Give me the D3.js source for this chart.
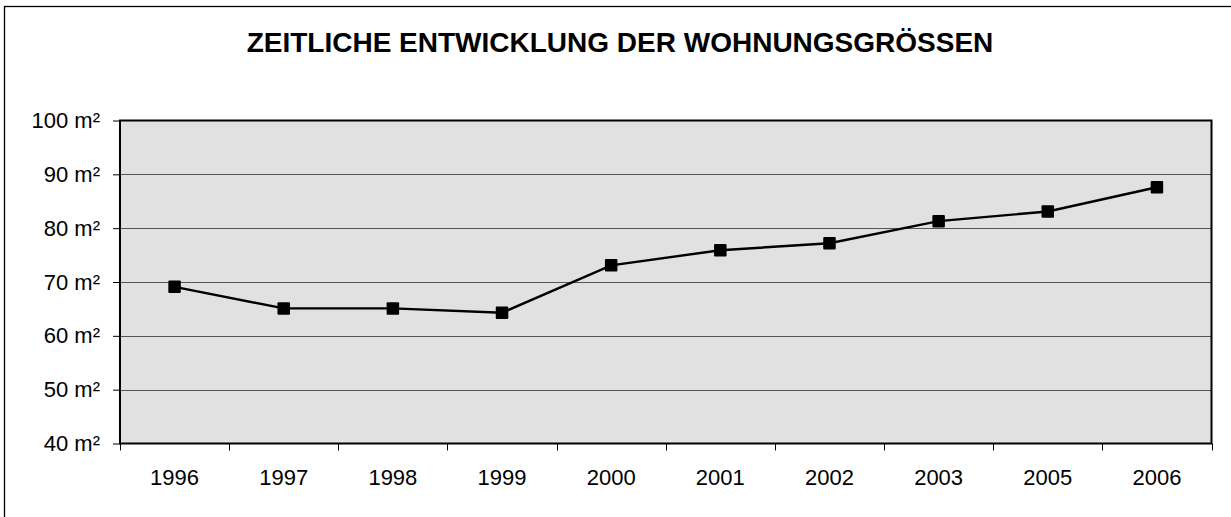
<!DOCTYPE html>
<html>
<head>
<meta charset="utf-8">
<script src="https://cdn.jsdelivr.net/npm/d3@7"></script>
<style>
  html, body { margin: 0; padding: 0; background: #fff; }
  svg { display: block; font-family: "Liberation Sans", Arial, sans-serif; }
</style>
</head>
<body>
<svg id="chart" width="1231" height="517"></svg>
<script>
// Average dwelling size per year (m²)
const years = ["1996", "1997", "1998", "1999", "2000", "2001", "2002", "2003", "2005", "2006"];
const sizes = [69.1, 65.1, 65.1, 64.3, 73.1, 75.9, 77.2, 81.3, 83.1, 87.6];
const yTicks = [40, 50, 60, 70, 80, 90, 100];
const title = "ZEITLICHE ENTWICKLUNG DER WOHNUNGSGRÖSSEN";

const svg = d3.select("#chart");
const W = 1231, H = 517;
const plot = { left: 120, top: 120.5, right: 1211.5, bottom: 443.5 };

// outer chart frame (runs off the right and bottom edges)
svg.append("rect")
  .attr("x", 4.5).attr("y", 6.5)
  .attr("width", W + 10).attr("height", H + 10)
  .attr("fill", "#fff").attr("stroke", "#000").attr("stroke-width", 1.3);

svg.append("text")
  .attr("x", 620).attr("y", 52)
  .attr("text-anchor", "middle")
  .attr("font-size", 28).attr("font-weight", "bold")
  .attr("fill", "#000")
  .text(title);

const x = d3.scaleBand().domain(years).range([plot.left, plot.right]);
const y = d3.scaleLinear().domain([40, 100]).range([plot.bottom, plot.top]);

// plot background
svg.append("rect")
  .attr("x", plot.left).attr("y", plot.top)
  .attr("width", plot.right - plot.left).attr("height", plot.bottom - plot.top)
  .attr("fill", "#e1e1e1");

// horizontal gridlines
svg.append("g").selectAll("line")
  .data(yTicks.filter(t => t > 40 && t < 100))
  .join("line")
  .attr("x1", plot.left).attr("x2", plot.right)
  .attr("y1", d => Math.round(y(d)) + 0.5).attr("y2", d => Math.round(y(d)) + 0.5)
  .attr("stroke", "#555").attr("stroke-width", 1);

// plot border
svg.append("rect")
  .attr("x", plot.left).attr("y", plot.top)
  .attr("width", plot.right - plot.left).attr("height", plot.bottom - plot.top)
  .attr("fill", "none").attr("stroke", "#000").attr("stroke-width", 2);

// y axis
const yAxis = svg.append("g")
  .attr("transform", `translate(${plot.left},0)`)
  .call(d3.axisLeft(y).tickValues(yTicks).tickSize(7).tickPadding(13)
    .tickFormat(d => d + " m²"));
yAxis.select(".domain").remove();
yAxis.selectAll(".tick line").attr("stroke", "#000").attr("stroke-width", 1);
yAxis.selectAll(".tick text")
  .attr("font-size", 22).attr("fill", "#000")
  .attr("font-family", "'Liberation Sans', Arial, sans-serif");

// x axis: ticks at category boundaries, labels centred in each band
const xAxis = svg.append("g").attr("transform", `translate(0,${plot.bottom})`);
const boundaries = years.map(d => x(d)).concat([plot.right]);
xAxis.selectAll("line")
  .data(boundaries)
  .join("line")
  .attr("x1", d => Math.round(d) + 0.5).attr("x2", d => Math.round(d) + 0.5)
  .attr("y1", 0).attr("y2", 7)
  .attr("stroke", "#000").attr("stroke-width", 1);
xAxis.selectAll("text")
  .data(years)
  .join("text")
  .attr("x", d => x(d) + x.bandwidth() / 2)
  .attr("y", 41.5)
  .attr("text-anchor", "middle")
  .attr("font-size", 22).attr("fill", "#000")
  .text(d => d);

// series line and square markers
const line = d3.line()
  .x((d, i) => x(years[i]) + x.bandwidth() / 2)
  .y(d => y(d));

svg.append("path")
  .datum(sizes)
  .attr("d", line)
  .attr("fill", "none").attr("stroke", "#000").attr("stroke-width", 2.4);

const m = 12.5;
svg.append("g").selectAll("rect")
  .data(sizes)
  .join("rect")
  .attr("x", (d, i) => x(years[i]) + x.bandwidth() / 2 - m / 2)
  .attr("y", d => y(d) - m / 2)
  .attr("width", m).attr("height", m)
  .attr("rx", 1)
  .attr("fill", "#000");
</script>
</body>
</html>
